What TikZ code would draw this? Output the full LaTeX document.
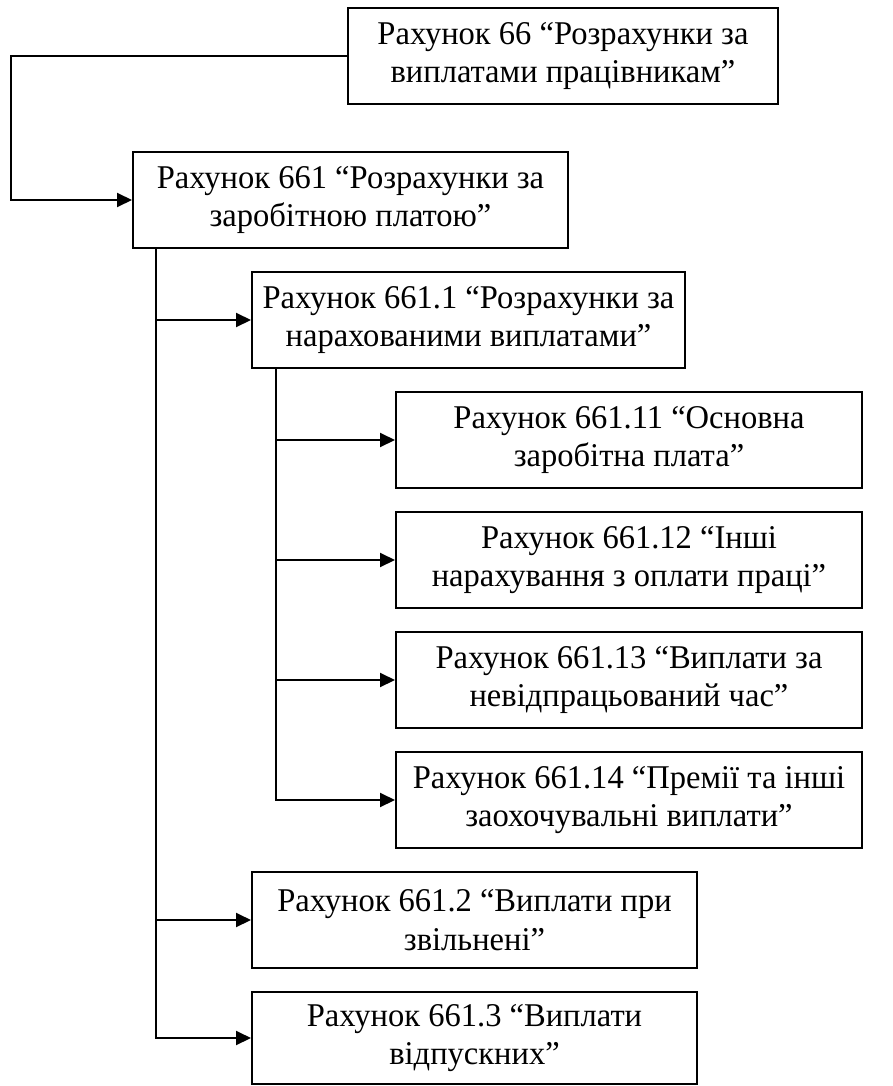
\documentclass[tikz,border=0pt]{standalone}
\usepackage{fontspec}
\setmainfont[FakeStretch=0.98]{Liberation Serif}
\usepackage{tikz}
\usetikzlibrary{arrows.meta}

\tikzset{
  acct/.style = {draw, line width=1pt, rectangle, align=center, inner sep=0pt,
                 minimum height=48pt, font=\fontsize{16.6}{19.4}\selectfont},
  arr/.style = {line width=1pt, -{Triangle[length=7.5pt,width=7pt]}}
}

\begin{document}
\begin{tikzpicture}[x=0.5pt, y=-0.5pt]
\useasboundingbox (0,0) rectangle (893,1086);

\node [acct, minimum width=215pt] (b66) at (563,56) {Рахунок 66 “Розрахунки за\\виплатами працівникам”};
\node [acct, minimum width=217.5pt] (b661) at (350.5,200) {Рахунок 661 “Розрахунки за\\заробітною платою”};
\node [acct, minimum width=216.5pt] (b6611) at (468.5,320) {Рахунок 661.1 “Розрахунки за\\нарахованими виплатами”};

\node [acct, minimum width=233pt] (b66111) at (629,440) {Рахунок 661.11 “Основна\\заробітна плата”};
\node [acct, minimum width=233pt] (b66112) at (629,560) {Рахунок 661.12 “Інші\\нарахування з оплати праці”};
\node [acct, minimum width=233pt] (b66113) at (629,680) {Рахунок 661.13 “Виплати за\\невідпрацьований час”};
\node [acct, minimum width=233pt] (b66114) at (629,800) {Рахунок 661.14 “Премії та інші\\заохочувальні виплати”};

\node [acct, minimum width=222.5pt] (b6612) at (474.5,920) {Рахунок 661.2 “Виплати при\\звільнені”};
\node [acct, minimum width=222.5pt, minimum height=46pt] (b6613) at (474.5,1038) {Рахунок 661.3 “Виплати\\відпускних”};

\draw [arr] (b66.west) -- ++(-336,0) |- (b661.west);

\coordinate (t1) at (b661.south -| 156,0);
\foreach \n in {b6611,b6612,b6613}
  \draw [arr] (t1) |- (\n.west);

\coordinate (t2) at (b6611.south -| 276,0);
\foreach \n in {b66111,b66112,b66113,b66114}
  \draw [arr] (t2) |- (\n.west);
\end{tikzpicture}
\end{document}
